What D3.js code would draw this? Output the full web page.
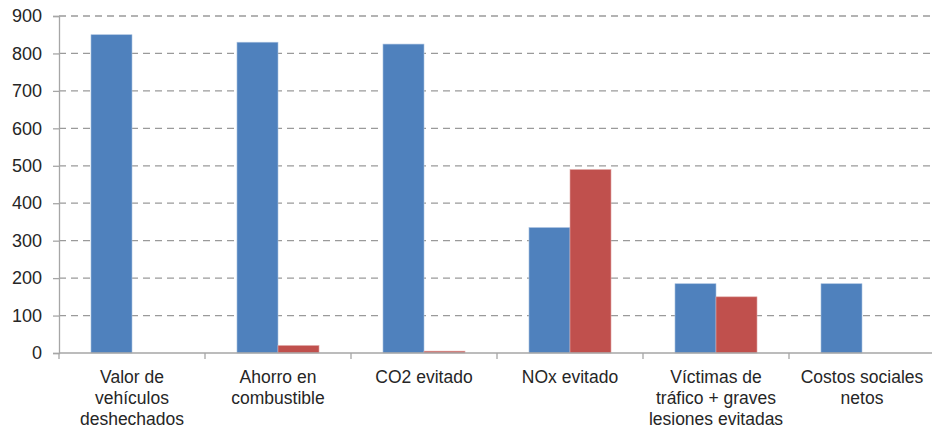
<!DOCTYPE html>
<html><head><meta charset="utf-8">
<script src="https://cdn.jsdelivr.net/npm/d3@7"></script>
<style>body{margin:0;background:#fff;}svg{display:block;font-family:"Liberation Sans",Arial,sans-serif;}</style>
</head><body>
<svg id="c" width="932" height="429"></svg>
<script>
const categories = [
  ["Valor de","vehículos","deshechados"],
  ["Ahorro en","combustible"],
  ["CO2 evitado"],
  ["NOx evitado"],
  ["Víctimas de","tráfico + graves","lesiones evitadas"],
  ["Costos sociales","netos"]
];
const seriesBlue = [850, 830, 825, 335, 185, 185];
const seriesRed = [0, 20, 5, 490, 150, 0];
const yTicks = [0,100,200,300,400,500,600,700,800,900];

const svg = d3.select("#c");
const x0 = 59, x1 = 935, yTop = 16, yBot = 353;
const keys = categories.map((d,i)=>i);
const x = d3.scaleBand().domain(keys).range([x0,x1]).paddingInner(0).paddingOuter(0);
const xs = d3.scaleBand().domain(["b","r"]).range([0,x.bandwidth()]).paddingInner(0).paddingOuter(0.78);
const y = d3.scaleLinear().domain([0,900]).range([yBot,yTop]);

// gridlines
svg.append("g").selectAll("line").data(yTicks.filter(t=>t>0)).join("line")
  .attr("x1",x0).attr("x2",932).attr("y1",d=>y(d)).attr("y2",d=>y(d))
  .attr("stroke","#9a9a9a").attr("stroke-width",1.3).attr("stroke-dasharray","7,5");

// bars
const data = keys.map(i=>({i, b:seriesBlue[i], r:seriesRed[i]}));
const g = svg.append("g");
g.selectAll("rect.b").data(data).join("rect").attr("class","b")
  .attr("x",d=>x(d.i)+xs("b")).attr("width",xs.bandwidth())
  .attr("y",d=>y(d.b)).attr("height",d=>yBot-y(d.b))
  .attr("fill","#4F81BD").attr("stroke","#a9c1e0").attr("stroke-width",0.6);
g.selectAll("rect.r").data(data.filter(d=>d.r>0)).join("rect").attr("class","r")
  .attr("x",d=>x(d.i)+xs("r")).attr("width",xs.bandwidth())
  .attr("y",d=>y(d.r)).attr("height",d=>yBot-y(d.r))
  .attr("fill","#C0504D").attr("stroke","#e0a9a7").attr("stroke-width",0.6);

// y axis
const ya = svg.append("g").attr("transform",`translate(${x0},0)`)
  .call(d3.axisLeft(y).tickValues(yTicks).tickSize(6).tickPadding(11));
ya.select(".domain").attr("stroke","#a6a6a6").attr("stroke-width",1.3);
ya.selectAll(".tick line").attr("stroke","#a6a6a6").attr("stroke-width",1.3);
ya.selectAll("text").attr("font-size","18px").attr("fill","#262626").attr("font-family","Liberation Sans, Arial, sans-serif");

// x axis
svg.append("line").attr("x1",x0).attr("x2",932).attr("y1",yBot).attr("y2",yBot)
  .attr("stroke","#a6a6a6").attr("stroke-width",1.3);
svg.append("g").selectAll("line").data(keys.concat([6])).join("line")
  .attr("x1",d=>d<6?x(d):x1).attr("x2",d=>d<6?x(d):x1)
  .attr("y1",yBot).attr("y2",yBot+6).attr("stroke","#a6a6a6").attr("stroke-width",1.3);

const lab = svg.append("g").selectAll("text").data(data).join("text")
  .attr("x",d=>x(d.i)+x.bandwidth()/2).attr("y",383)
  .attr("text-anchor","middle").attr("font-size","17.5px").attr("fill","#262626");
lab.each(function(d){
  const t = d3.select(this);
  categories[d.i].forEach((line,k)=>{
    t.append("tspan").attr("x",x(d.i)+x.bandwidth()/2).attr("dy",k===0?0:21).text(line);
  });
});
</script>
</body></html>
